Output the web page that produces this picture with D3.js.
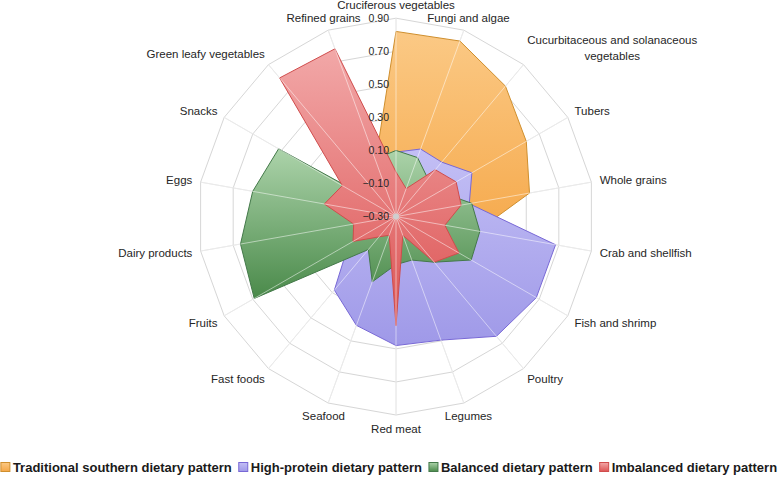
<!DOCTYPE html>
<html>
<head>
<meta charset="utf-8">
<script src="https://cdn.jsdelivr.net/npm/d3@7"></script>
<style>
body { margin: 0; background: #fff; }
text { font-family: "Liberation Sans", Arial, sans-serif; }
</style>
</head>
<body>
<div id="chart"></div>
<script>
// categories, clockwise from the top
const CATEGORIES = [
    'Cruciferous vegetables', 'Fungi and algae', 'Cucurbitaceous and solanaceous vegetables',
    'Tubers', 'Whole grains', 'Crab and shellfish', 'Fish and shrimp', 'Poultry', 'Legumes',
    'Red meat', 'Seafood', 'Fast foods', 'Fruits', 'Dairy products', 'Eggs', 'Snacks',
    'Green leafy vegetables', 'Refined grains'
];
const SERIES_NAMES = [
    'Traditional southern dietary pattern', 'High-protein dietary pattern',
    'Balanced dietary pattern', 'Imbalanced dietary pattern'
];
const TRADITIONAL  = [0.82, 0.83, 0.73, 0.61, 0.52, 0.20, 0.00, -0.05, -0.10, -0.10, -0.10, -0.10, -0.05, 0.00, 0.00, 0.00, 0.00, 0.06];
const HIGH_PROTEIN = [0.09, 0.135, 0.13, 0.23, 0.15, 0.68, 0.68, 0.645, 0.495, 0.48, 0.40, 0.28, 0.03, 0.00, -0.05, -0.05, -0.05, 0.00];
const BALANCED     = [0.10, 0.08, 0.00, 0.00, 0.165, 0.215, 0.225, 0.06, -0.02, -0.01, 0.12, -0.04, 0.69, 0.655, 0.58, 0.52, -0.25, 0.07];
const IMBALANCED   = [-0.03, -0.12, 0.07, 0.12, 0.10, 0.00, 0.14, 0.06, -0.18, 0.36, -0.18, -0.14, 0.00, -0.04, 0.14, 0.075, 0.795, 0.78];
const TICKS = [-0.30, -0.10, 0.10, 0.30, 0.50, 0.70, 0.90];

// layout
const SVG_WIDTH = 778;
const SVG_HEIGHT = 478;
const CX = 396, CY = 216.6;
const RADIUS = 198.4;
const LABEL_GAP = 13.5;
const LEGEND_Y = 467;

// colours: [top of gradient, bottom of gradient, outline]
const COLORS = [
    ['#fbc985', '#f5a748', '#cf8f2e'],
    ['#c3bff5', '#9f99e8', '#7868d6'],
    ['#acd3aa', '#4a8a4a', '#44794a'],
    ['#f2a8a8', '#dc5454', '#d04c4c']
];

const svg = d3.select('#chart')
    .append('svg')
    .attr('width', SVG_WIDTH)
    .attr('height', SVG_HEIGHT)
;
const defs = svg.append('defs');
COLORS.forEach((c, i) => {
    const g = defs.append('linearGradient')
        .attr('id', 'grad' + i)
        .attr('x1', 0).attr('y1', 0).attr('x2', 0).attr('y2', 1);
    g.append('stop').attr('offset', '0%').attr('stop-color', c[0]);
    g.append('stop').attr('offset', '100%').attr('stop-color', c[1]);
});

const n = CATEGORIES.length;
const step = 2 * Math.PI / n;
const r = d3.scaleLinear()
    .domain([TICKS[0], TICKS[TICKS.length - 1]])
    .range([0, RADIUS]);

const plot = svg.append('g').attr('transform', `translate(${CX},${CY})`);

const radar = d3.lineRadial()
    .angle((d, i) => i * step)
    .radius(d => r(d))
    .curve(d3.curveLinearClosed);

// grid rings
plot.append('g')
    .selectAll('path')
    .data(TICKS.slice(1))
    .join('path')
    .attr('d', t => radar(CATEGORIES.map(() => t)))
    .attr('fill', 'none')
    .attr('stroke', '#d6d6d6')
    .attr('stroke-width', 1);

// spokes (under)
const spokes = (cls, color, width) => plot.append('g')
    .attr('class', cls)
    .selectAll('line')
    .data(CATEGORIES)
    .join('line')
    .attr('x1', 0).attr('y1', 0)
    .attr('x2', (d, i) => d3.pointRadial(i * step, RADIUS)[0])
    .attr('y2', (d, i) => d3.pointRadial(i * step, RADIUS)[1])
    .attr('stroke', color)
    .attr('stroke-width', width);
spokes('spoke_under', '#d6d6d6', 1);

// series
const SERIES = [TRADITIONAL, HIGH_PROTEIN, BALANCED, IMBALANCED];
plot.append('g')
    .selectAll('path')
    .data(SERIES)
    .join('path')
    .attr('d', d => radar(d))
    .attr('fill', (d, i) => `url(#grad${i})`)
    .attr('stroke', (d, i) => COLORS[i][2])
    .attr('stroke-width', 1)
    .attr('stroke-linejoin', 'round');

// spokes (over, light)
spokes('spoke_over', 'rgba(255,255,255,0.5)', 1);

// centre dot
plot.append('circle').attr('r', 3).attr('fill', '#cfcfcf');

// tick labels
plot.append('g')
    .selectAll('text')
    .data(TICKS)
    .join('text')
    .text(t => d3.format('.2f')(t))
    .attr('x', -7)
    .attr('y', t => -r(t))
    .attr('dy', '0.35em')
    .attr('text-anchor', 'end')
    .attr('font-size', 10.5)
    .attr('fill', '#262626');

// category labels
const LABEL_FONT = 11.5;
const LINE_H = 16;
const MAX_LINE = 180;
const labels = plot.append('g');
CATEGORIES.forEach((name, i) => {
    const a = i * step;
    const [px, py] = d3.pointRadial(a, RADIUS + LABEL_GAP);
    const s = Math.sin(a);
    const t = labels.append('text')
        .attr('font-size', LABEL_FONT)
        .attr('fill', '#262626');

    // wrap long labels
    const words = name.split(' ');
    const lines = [];
    let cur = '';
    const probe = t.append('tspan');
    words.forEach(w => {
        const test = cur ? cur + ' ' + w : w;
        probe.text(test);
        if (cur && probe.node().getComputedTextLength() > MAX_LINE) {
            lines.push(cur);
            cur = w;
        } else {
            cur = test;
        }
    });
    lines.push(cur);
    const widths = lines.map(l => { probe.text(l); return probe.node().getComputedTextLength(); });
    probe.remove();
    const blockW = d3.max(widths);

    let cx;
    if (Math.abs(s) < 0.5) {
        cx = px;
    } else if (s > 0) {
        cx = px - 5 + blockW / 2;
    } else {
        cx = px + 5 - blockW / 2;
    }
    const y0 = lines.length > 1 ? py - (lines.length - 1) * LINE_H + 2 : py;
    lines.forEach((l, k) => {
        t.append('tspan')
            .attr('x', cx)
            .attr('y', y0 + k * LINE_H)
            .attr('dy', '0.35em')
            .attr('text-anchor', 'middle')
            .text(l);
    });
});

// legend
const legend = svg.append('g').attr('class', 'legend');
const SQ = 9, SQ_GAP = 3, ITEM_GAP = 7;
let lx = 0;
const items = SERIES_NAMES.map((name, i) => {
    const g = legend.append('g');
    g.append('rect')
        .attr('x', 0).attr('y', -SQ / 2)
        .attr('width', SQ).attr('height', SQ)
        .attr('fill', `url(#grad${i})`)
        .attr('stroke', COLORS[i][2])
        .attr('stroke-width', 1);
    const txt = g.append('text')
        .text(name)
        .attr('x', SQ + SQ_GAP)
        .attr('dy', '0.35em')
        .attr('font-size', 13)
        .attr('font-weight', 'bold')
        .attr('fill', '#1a1a1a');
    g.attr('transform', `translate(${lx},0)`);
    lx += SQ + SQ_GAP + txt.node().getComputedTextLength() + ITEM_GAP;
    return g;
});
const total = lx - ITEM_GAP;
legend.attr('transform', `translate(${(SVG_WIDTH - total) / 2},${LEGEND_Y})`);
</script>
</body>
</html>
